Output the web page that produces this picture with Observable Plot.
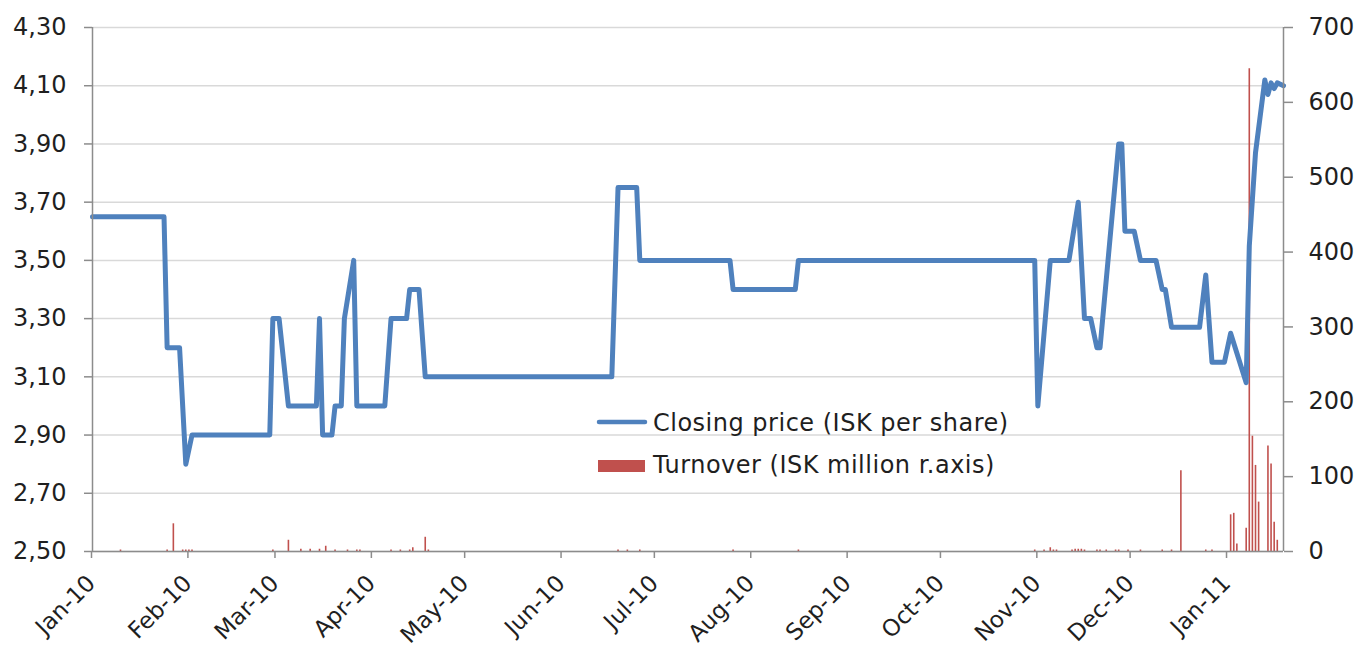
<!DOCTYPE html>
<html>
<head>
<meta charset="utf-8">
<script src="https://cdn.jsdelivr.net/npm/d3@7"></script>
<script src="https://cdn.jsdelivr.net/npm/@observablehq/plot@0.6"></script>
<style>
html, body { margin: 0; padding: 0; background: #fff; }
#chart { position: relative; width: 1355px; height: 653px; }
</style>
</head>
<body>
<div id="chart"></div>
<script>
// ---- Data ----
const priceDates = [
  "2010-01-01","2010-01-24","2010-01-25","2010-01-29","2010-01-31","2010-02-02",
  "2010-02-27","2010-02-28","2010-03-02","2010-03-05","2010-03-14","2010-03-15",
  "2010-03-16","2010-03-19","2010-03-20","2010-03-22","2010-03-23","2010-03-26",
  "2010-03-27","2010-04-05","2010-04-07","2010-04-12","2010-04-13","2010-04-16",
  "2010-04-18","2010-06-17","2010-06-19","2010-06-25","2010-06-26","2010-07-25",
  "2010-07-26","2010-08-15","2010-08-16","2010-10-31","2010-11-01","2010-11-05",
  "2010-11-11","2010-11-14","2010-11-16","2010-11-18","2010-11-20","2010-11-21",
  "2010-11-27","2010-11-28","2010-11-29","2010-12-02","2010-12-04","2010-12-09",
  "2010-12-11","2010-12-12","2010-12-14","2010-12-23","2010-12-25","2010-12-27",
  "2010-12-31","2011-01-02","2011-01-07","2011-01-08","2011-01-10","2011-01-13",
  "2011-01-14","2011-01-15","2011-01-16","2011-01-17","2011-01-19"
];
const priceValues = [
  3.65,3.65,3.20,3.20,2.80,2.90,
  2.90,3.30,3.30,3.00,3.00,3.30,
  2.90,2.90,3.00,3.00,3.30,3.50,
  3.00,3.00,3.30,3.30,3.40,3.40,
  3.10,3.10,3.75,3.75,3.50,3.50,
  3.40,3.40,3.50,3.50,3.00,3.50,
  3.50,3.70,3.30,3.30,3.20,3.20,
  3.90,3.90,3.60,3.60,3.50,3.50,
  3.40,3.40,3.27,3.27,3.45,3.15,
  3.15,3.25,3.08,3.55,3.87,4.12,
  4.07,4.11,4.09,4.11,4.10
];

const turnoverDates = [
  "2010-01-10","2010-01-25","2010-01-27","2010-01-30","2010-01-31","2010-02-01","2010-02-02",
  "2010-02-28","2010-03-05","2010-03-09","2010-03-12","2010-03-15","2010-03-17","2010-03-20",
  "2010-03-24","2010-03-27","2010-03-28","2010-04-07","2010-04-10","2010-04-13","2010-04-14",
  "2010-04-18","2010-04-19","2010-06-19","2010-06-22","2010-06-26","2010-07-26","2010-08-16",
  "2010-10-31","2010-11-03","2010-11-05","2010-11-06","2010-11-07","2010-11-12","2010-11-13",
  "2010-11-14","2010-11-15","2010-11-16","2010-11-20","2010-11-21","2010-11-23","2010-11-26",
  "2010-11-27","2010-11-30","2010-12-04","2010-12-11","2010-12-14","2010-12-17","2010-12-25",
  "2010-12-27","2011-01-02","2011-01-03","2011-01-04","2011-01-07","2011-01-08","2011-01-09",
  "2011-01-10","2011-01-11","2011-01-14","2011-01-15","2011-01-16","2011-01-17"
];
const turnoverValues = [
  2,2,37,2,2,2,2,
  2,15,3,3,3,7,2,
  2,2,2,2,2,2,5,
  19,2,2,2,2,2,2,
  2,2,5,2,2,2,3,
  3,3,2,2,2,2,2,
  2,2,2,2,2,108,2,
  2,49,51,10,31,645,154,
  115,66,141,117,39,15
];

const leftTicks = [2.5, 2.7, 2.9, 3.1, 3.3, 3.5, 3.7, 3.9, 4.1, 4.3];
const rightTicks = [0, 100, 200, 300, 400, 500, 600, 700];
const monthTicks = [
  "2010-01-01","2010-02-01","2010-03-01","2010-04-01","2010-05-01","2010-06-01","2010-07-01",
  "2010-08-01","2010-09-01","2010-10-01","2010-11-01","2010-12-01","2011-01-01"
];
const xDomain = ["2010-01-01", "2011-01-19"];
const legendLabels = ["Closing price (ISK per share)", "Turnover (ISK million r.axis)"];

// ---- Build ----
const parse = s => new Date(s + "T00:00:00Z");
const yMin = leftTicks[0], yMax = leftTicks[leftTicks.length - 1];
const rMax = rightTicks[rightTicks.length - 1];
const toLeft = v => yMin + v * (yMax - yMin) / rMax;
const fromLeft = y => (y - yMin) * rMax / (yMax - yMin);

const price = priceDates.map((d, i) => ({date: parse(d), value: priceValues[i]}));
const turnover = turnoverDates.map((d, i) => ({date: parse(d), value: turnoverValues[i]}));

const BLUE = "#4F81BD", RED = "#C0504D", AXIS = "#8c8c8c", GRID = "#d9d9d9", TEXT = "#1f1f1f";
const fmtLeft = d => d3.format(".2f")(d).replace(".", ",");
const fmtMonth = d3.utcFormat("%b-%y");

const chart = Plot.plot({
  width: 1355,
  height: 653,
  marginLeft: 92,
  marginRight: 72,
  marginTop: 27,
  marginBottom: 102,
  style: {fontFamily: "DejaVu Sans", fontSize: "24px", background: "#fff", color: TEXT},
  x: {type: "utc", domain: xDomain.map(parse)},
  y: {domain: [yMin, yMax]},
  marks: [
    Plot.gridY(leftTicks, {stroke: GRID, strokeOpacity: 1, strokeWidth: 1.5}),
    Plot.ruleX(turnover, {x: "date", y1: () => yMin, y2: d => toLeft(d.value), stroke: RED, strokeWidth: 1.6}),
    Plot.line(price, {x: "date", y: "value", stroke: BLUE, strokeWidth: 5, strokeLinejoin: "round", strokeLinecap: "round"}),
    Plot.ruleY([yMin], {stroke: AXIS, strokeWidth: 1.5}),
    Plot.ruleX(xDomain.map(parse), {stroke: AXIS, strokeWidth: 1.5}),
    Plot.axisY(leftTicks, {anchor: "left", label: null, tickSize: 8, tickPadding: 18, tickFormat: fmtLeft,
      stroke: AXIS, strokeWidth: 1.5, fill: TEXT, fontSize: 24}),
    Plot.axisY(rightTicks.map(toLeft), {anchor: "right", label: null, tickSize: 9, tickPadding: 16,
      tickFormat: d => String(Math.round(fromLeft(d))), stroke: AXIS, strokeWidth: 1.5, fill: TEXT, fontSize: 24}),
    Plot.axisX(monthTicks.map(parse), {anchor: "bottom", label: null, tickSize: 7, tickPadding: 21, dx: -1,
      tickRotate: -45, tickFormat: fmtMonth, stroke: AXIS, strokeWidth: 1.5, fill: TEXT, fontSize: 23})
  ]
});

// ---- Legend (inside the plot area, like the reference) ----
const svg = d3.select(chart);
const lg = svg.append("g").attr("font-family", "DejaVu Sans").attr("font-size", 24)
  .attr("fill", TEXT).attr("text-anchor", "start").attr("letter-spacing", 0.5);
lg.append("line").attr("x1", 599).attr("x2", 645).attr("y1", 422).attr("y2", 422)
  .attr("stroke", BLUE).attr("stroke-width", 4.5).attr("stroke-linecap", "round");
lg.append("text").attr("x", 653).attr("y", 431).text(legendLabels[0]);
lg.append("rect").attr("x", 598).attr("y", 460).attr("width", 47).attr("height", 12).attr("fill", RED);
lg.append("text").attr("x", 653).attr("y", 473).text(legendLabels[1]);

document.getElementById("chart").appendChild(chart);
</script>
</body>
</html>
